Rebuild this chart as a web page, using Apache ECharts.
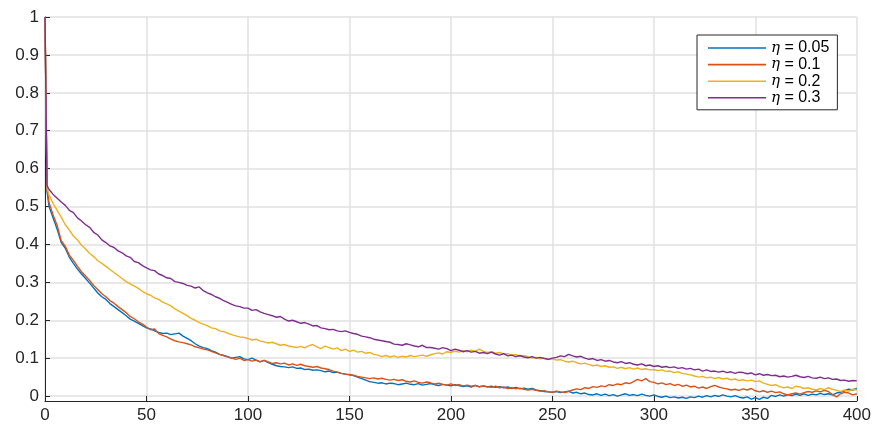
<!DOCTYPE html>
<html>
<head>
<meta charset="utf-8">
<script src="https://cdn.jsdelivr.net/npm/echarts@6/dist/echarts.min.js"></script>
<style>html,body{margin:0;padding:0;background:#fff}#c{width:874px;height:426px}</style>
</head>
<body>
<div id="c"></div>
<script>
// x positions: 0, 1, then 2..400 step 2
var xValues = [0, 1];
for (var k = 2; k <= 400; k += 2) xValues.push(k);

var yTicks = [0, 0.1, 0.2, 0.3, 0.4, 0.5, 0.6, 0.7, 0.8, 0.9, 1];
var xTicks = [0, 50, 100, 150, 200, 250, 300, 350, 400];
var seriesNames = ['0.05', '0.1', '0.2', '0.3'];

var eta005 = [1.0,0.54,
0.5,0.47,0.44,0.405,0.39,0.366,0.35,0.335,0.322,0.31,
0.298,0.285,0.272,0.262,0.255,0.244,0.236,0.228,0.22,0.212,
0.203,0.198,0.192,0.186,0.18,0.177,0.172,0.168,0.165,0.166,
0.162,0.164,0.166,0.158,0.152,0.146,0.138,0.132,0.128,0.125,
0.12,0.116,0.11,0.107,0.104,0.1,0.102,0.104,0.098,0.096,
0.1,0.095,0.09,0.094,0.088,0.084,0.08,0.078,0.077,0.075,
0.077,0.073,0.074,0.07,0.071,0.068,0.069,0.067,0.064,0.066,
0.062,0.063,0.06,0.058,0.056,0.054,0.05,0.046,0.042,0.038,
0.036,0.034,0.035,0.032,0.034,0.033,0.03,0.032,0.034,0.031,
0.03,0.033,0.029,0.031,0.033,0.03,0.028,0.031,0.029,0.027,
0.03,0.028,0.025,0.027,0.024,0.028,0.025,0.027,0.024,0.026,
0.023,0.025,0.022,0.024,0.02,0.023,0.019,0.021,0.018,0.02,
0.016,0.014,0.012,0.011,0.01,0.012,0.009,0.011,0.013,0.008,
0.01,0.006,0.008,0.004,0.003,0.006,0.002,0.005,0.001,0.004,
0.0,0.003,0.006,0.002,0.004,0.001,0.005,0.002,0.0,0.003,
-0.001,-0.003,0.0,-0.004,-0.002,-0.005,-0.003,-0.006,-0.002,-0.004,
0.0,-0.003,0.001,-0.002,0.002,-0.001,0.003,0.0,-0.002,0.001,
-0.003,-0.005,-0.002,-0.008,-0.004,-0.009,-0.003,-0.006,0.002,-0.001,
0.003,0.0,0.004,0.001,0.005,0.002,0.006,0.002,0.005,0.003,
0.007,0.004,0.006,0.003,0.008,0.01,0.014,0.018,0.016,0.02];

var eta01 = [1.0,0.545,
0.51,0.478,0.45,0.41,0.395,0.372,0.358,0.342,0.328,0.317,
0.305,0.292,0.281,0.27,0.262,0.252,0.245,0.236,0.228,0.22,
0.21,0.204,0.196,0.19,0.182,0.175,0.177,0.165,0.16,0.156,
0.15,0.146,0.143,0.141,0.138,0.135,0.13,0.127,0.124,0.122,
0.118,0.114,0.11,0.107,0.103,0.1,0.097,0.1,0.094,0.096,
0.092,0.095,0.091,0.094,0.09,0.086,0.088,0.085,0.087,0.082,
0.085,0.081,0.084,0.08,0.078,0.076,0.078,0.074,0.072,0.07,
0.066,0.063,0.06,0.058,0.057,0.055,0.052,0.05,0.048,0.046,
0.048,0.045,0.047,0.044,0.042,0.044,0.041,0.043,0.039,0.037,
0.04,0.036,0.034,0.037,0.035,0.032,0.034,0.031,0.029,0.032,
0.028,0.03,0.027,0.029,0.026,0.028,0.024,0.027,0.025,0.023,
0.026,0.022,0.024,0.02,0.022,0.019,0.021,0.018,0.016,0.018,
0.015,0.013,0.014,0.011,0.01,0.013,0.011,0.009,0.012,0.016,
0.019,0.017,0.022,0.02,0.025,0.023,0.027,0.025,0.03,0.028,
0.032,0.03,0.035,0.033,0.038,0.044,0.04,0.046,0.038,0.036,
0.032,0.035,0.03,0.033,0.028,0.031,0.026,0.029,0.024,0.026,
0.021,0.024,0.02,0.025,0.028,0.024,0.021,0.019,0.016,0.018,
0.015,0.019,0.016,0.02,0.014,0.011,0.014,0.01,0.013,0.009,
0.011,0.006,0.003,0.006,0.008,0.005,0.009,0.012,0.01,0.014,
0.011,0.015,0.012,0.004,-0.002,0.006,0.01,0.008,0.003,0.006];

var eta02 = [1.0,0.55,
0.53,0.508,0.49,0.472,0.452,0.438,0.422,0.412,0.398,0.388,
0.376,0.368,0.357,0.35,0.342,0.334,0.326,0.318,0.31,0.302,
0.296,0.29,0.284,0.276,0.27,0.266,0.259,0.255,0.248,0.243,
0.238,0.23,0.224,0.218,0.212,0.205,0.2,0.194,0.19,0.186,
0.18,0.178,0.172,0.17,0.166,0.162,0.159,0.156,0.155,0.152,
0.148,0.15,0.145,0.143,0.14,0.142,0.138,0.134,0.136,0.132,
0.13,0.128,0.131,0.127,0.133,0.136,0.13,0.125,0.132,0.128,
0.124,0.127,0.12,0.124,0.118,0.121,0.116,0.118,0.113,0.115,
0.11,0.108,0.104,0.107,0.103,0.106,0.102,0.105,0.103,0.107,
0.104,0.106,0.108,0.105,0.109,0.112,0.114,0.111,0.117,0.115,
0.119,0.116,0.12,0.117,0.121,0.118,0.124,0.118,0.115,0.117,
0.113,0.115,0.111,0.112,0.108,0.11,0.105,0.107,0.103,0.1,
0.102,0.098,0.1,0.096,0.098,0.095,0.096,0.092,0.09,0.092,
0.088,0.085,0.087,0.083,0.08,0.082,0.078,0.08,0.076,0.077,
0.073,0.076,0.072,0.075,0.071,0.074,0.07,0.072,0.069,0.07,
0.067,0.069,0.065,0.066,0.062,0.064,0.06,0.058,0.056,0.053,
0.05,0.052,0.048,0.05,0.046,0.049,0.045,0.047,0.043,0.045,
0.041,0.043,0.04,0.042,0.038,0.04,0.034,0.031,0.028,0.03,
0.025,0.022,0.024,0.02,0.026,0.024,0.02,0.022,0.018,0.016,
0.02,0.017,0.022,0.018,0.015,0.012,0.016,0.013,0.018,0.016];

var eta03 = [1.0,0.555,
0.545,0.532,0.522,0.512,0.503,0.49,0.484,0.47,0.462,0.452,
0.445,0.432,0.425,0.412,0.405,0.396,0.392,0.383,0.378,0.37,
0.366,0.355,0.352,0.344,0.338,0.333,0.331,0.322,0.318,0.312,
0.31,0.302,0.3,0.297,0.292,0.29,0.285,0.288,0.278,0.272,
0.268,0.262,0.258,0.252,0.247,0.242,0.238,0.236,0.232,0.232,
0.226,0.228,0.222,0.218,0.215,0.212,0.208,0.21,0.203,0.198,
0.2,0.196,0.192,0.194,0.19,0.185,0.186,0.18,0.178,0.175,
0.176,0.172,0.17,0.172,0.168,0.165,0.163,0.158,0.156,0.154,
0.15,0.148,0.146,0.144,0.142,0.137,0.136,0.134,0.138,0.135,
0.132,0.13,0.134,0.128,0.128,0.126,0.124,0.128,0.125,0.12,
0.124,0.121,0.117,0.12,0.116,0.118,0.113,0.115,0.112,0.116,
0.111,0.108,0.112,0.106,0.108,0.104,0.107,0.103,0.101,0.104,
0.1,0.102,0.099,0.097,0.1,0.102,0.106,0.104,0.11,0.106,
0.103,0.105,0.1,0.097,0.099,0.094,0.096,0.092,0.094,0.09,
0.088,0.091,0.086,0.088,0.084,0.082,0.085,0.08,0.082,0.078,
0.08,0.076,0.078,0.075,0.077,0.073,0.075,0.071,0.073,0.069,
0.071,0.066,0.069,0.065,0.066,0.063,0.066,0.062,0.064,0.06,
0.063,0.062,0.059,0.061,0.056,0.059,0.055,0.057,0.054,0.055,
0.051,0.053,0.05,0.052,0.055,0.051,0.049,0.052,0.048,0.047,
0.05,0.046,0.048,0.044,0.045,0.041,0.042,0.039,0.041,0.04];

var colors = ['#0072BD', '#D95319', '#EDB120', '#7E2F8E'];
var allData = [eta005, eta01, eta02, eta03];

function pairs(arr) {
  return arr.map(function (v, i) { return [xValues[i], v]; });
}

var chart = echarts.init(document.getElementById('c'), null, {renderer: 'canvas'});
var FONT = 'Liberation Sans, Arial, Helvetica, sans-serif';
var series = allData.map(function (d, i) {
  return {
    name: seriesNames[i],
    type: 'line',
    data: pairs(d),
    symbol: 'none',
    showSymbol: false,
    animation: false,
    lineStyle: {color: colors[i], width: 1.4},
    itemStyle: {color: colors[i]},
    z: 2 + i
  };
});

chart.setOption({
  backgroundColor: '#ffffff',
  animation: false,
  grid: {left: 45, right: 17, top: 17, bottom: 25, containLabel: false},
  xAxis: {
    type: 'value', min: 0, max: 400, interval: 50,
    axisLine: {show: true, onZero: false, lineStyle: {color: '#262626', width: 1}},
    axisTick: {show: true, inside: true, length: 5, lineStyle: {color: '#262626'}},
    axisLabel: {color: '#262626', fontSize: 17, fontFamily: FONT, margin: 6,
      customValues: xTicks},
    splitLine: {show: true, lineStyle: {color: '#e0e0e0', width: 1.5}}
  },
  yAxis: {
    type: 'value', min: -0.013, max: 1,
    axisLine: {show: true, lineStyle: {color: '#262626', width: 1}},
    axisTick: {show: true, inside: true, length: 5, lineStyle: {color: '#262626'},
      customValues: yTicks},
    axisLabel: {color: '#262626', fontSize: 17, fontFamily: FONT, margin: 6,
      customValues: yTicks,
      formatter: function (v) { return String(+v.toFixed(2)); }},
    splitLine: {show: true, lineStyle: {color: '#e0e0e0', width: 1.5}}
  },
  legend: {
    show: true, orient: 'vertical', left: 697, top: 35,
    padding: [5, 8, 4, 11], itemGap: 0.6, itemWidth: 58, itemHeight: 14,
    itemTextGap: 4,
    icon: 'path://M0,0 L58,0 L58,1.6 L0,1.6 Z',
    backgroundColor: '#ffffff', borderColor: '#262626', borderWidth: 1,
    formatter: function (name) { return '{i|η} = ' + name; },
    textStyle: {fontFamily: FONT, fontSize: 16, color: '#000', lineHeight: 14,
      rich: {i: {fontStyle: 'italic', fontFamily: 'DejaVu Serif, serif', fontSize: 15, color: '#000', lineHeight: 14}}},
    data: seriesNames
  },
  series: series
});
</script>
</body>
</html>
